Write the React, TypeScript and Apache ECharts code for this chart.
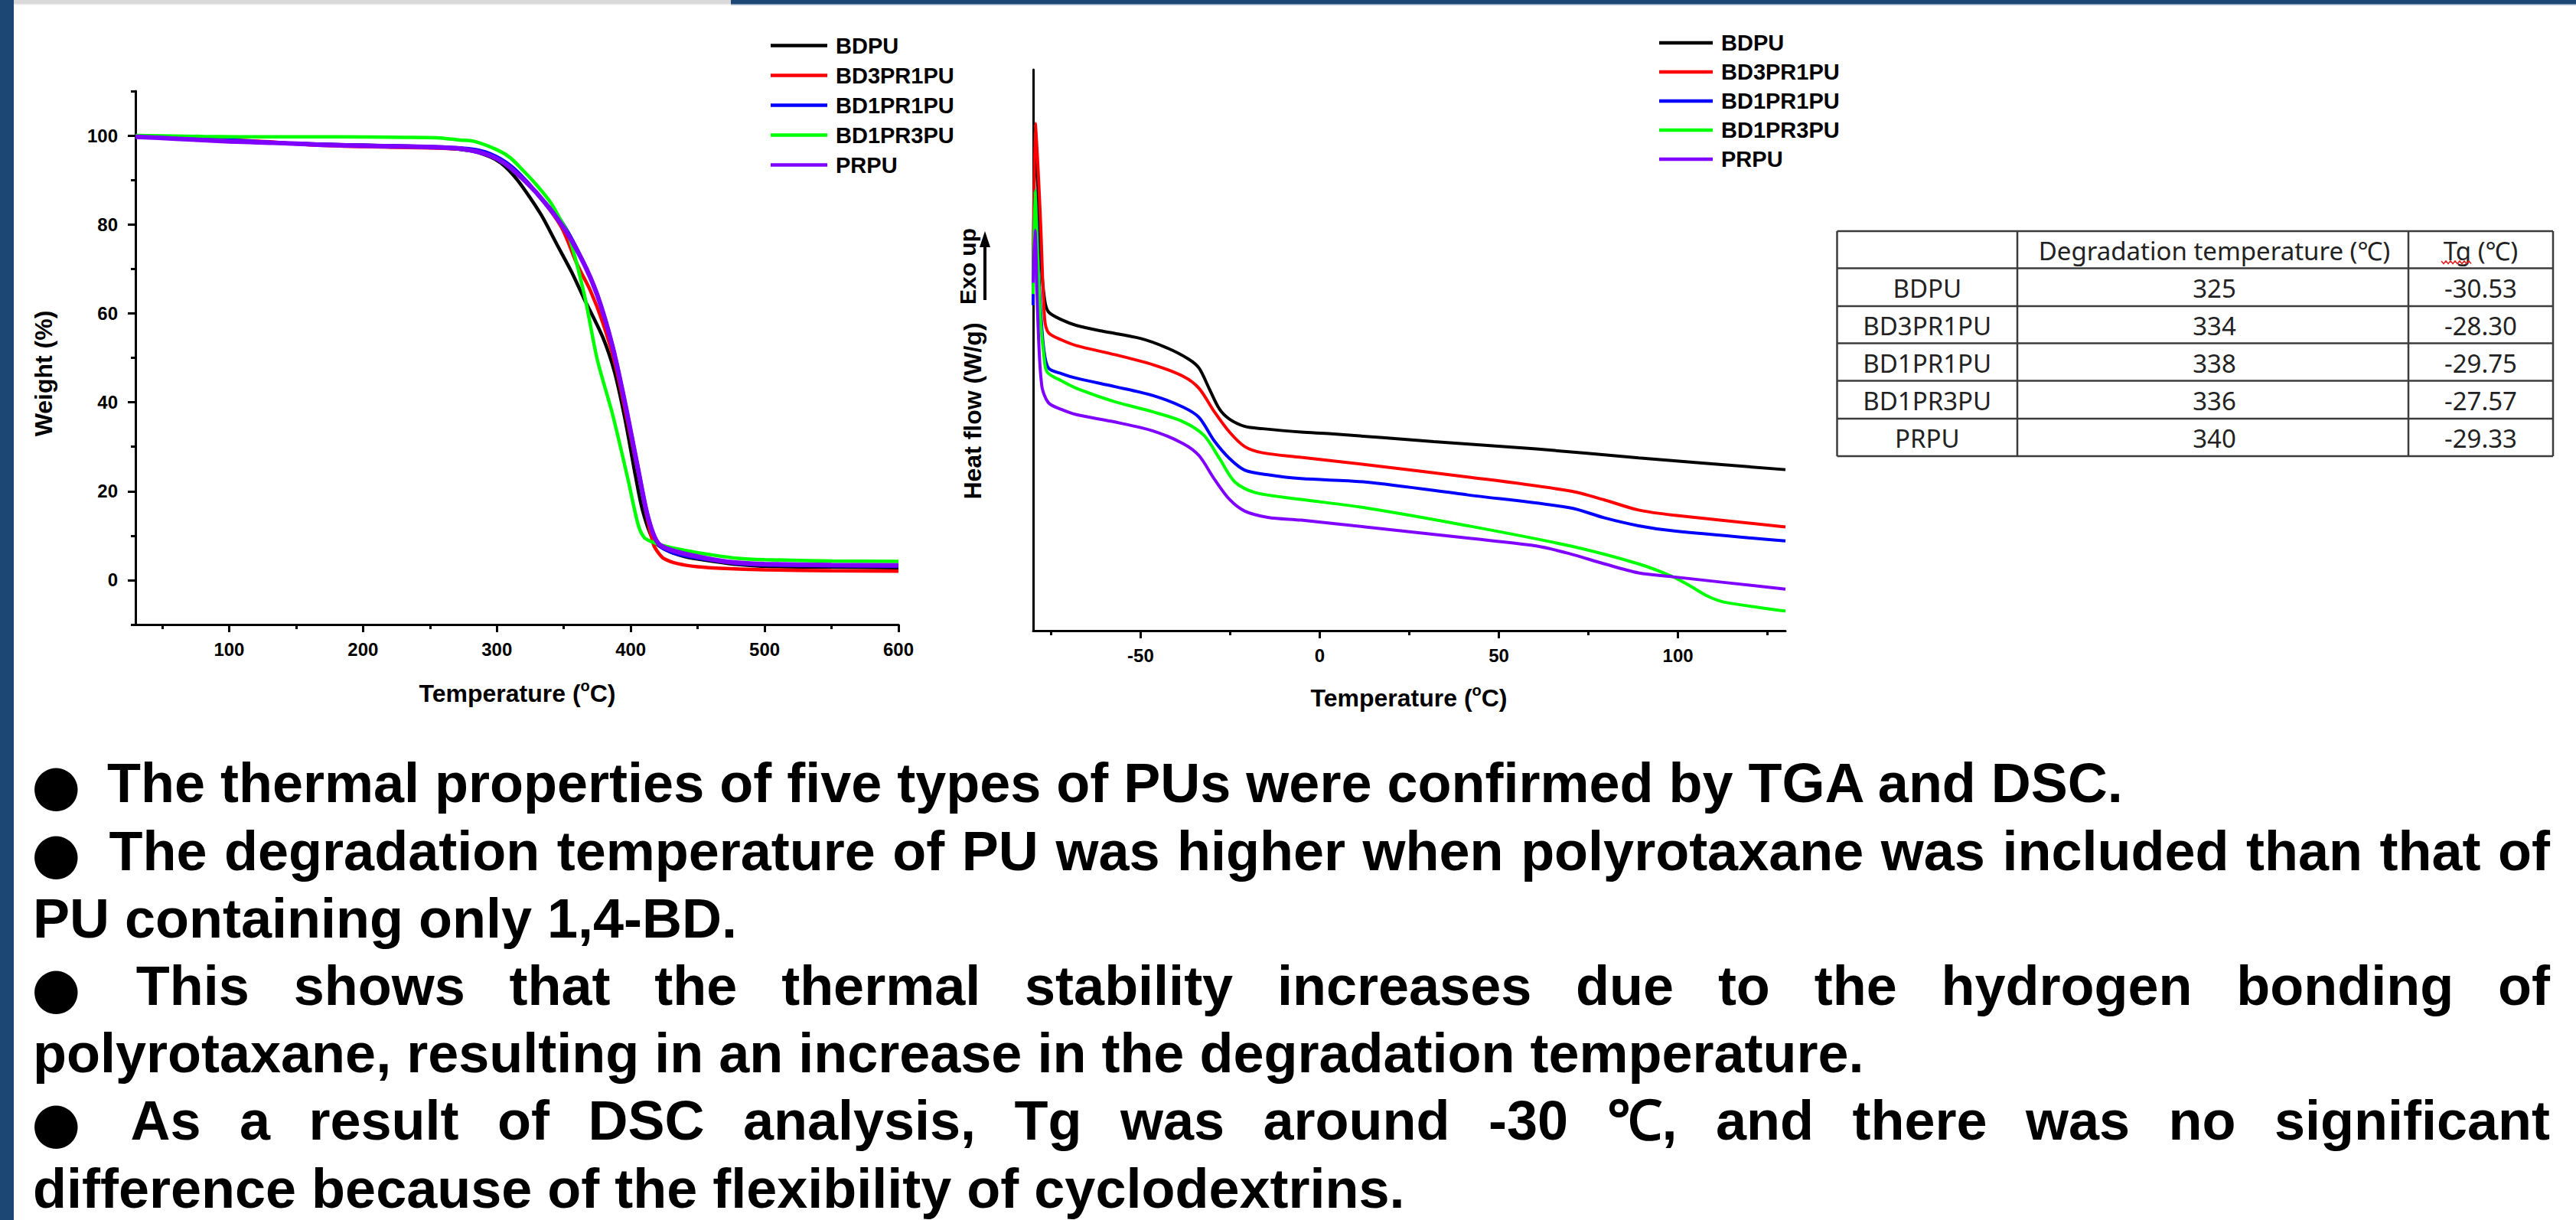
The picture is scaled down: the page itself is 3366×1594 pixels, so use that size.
import React, { useEffect, useRef } from "react";
import * as echarts from "echarts";

const FONT = "'Liberation Sans', Arial, Helvetica, sans-serif";
const TABLE_FONT = "'Noto Sans', 'Noto Sans CJK KR', sans-serif";

const seriesNames = ["BDPU", "BD3PR1PU", "BD1PR1PU", "BD1PR3PU", "PRPU"];
const seriesColors = ["#000000", "#ff0000", "#0000ff", "#00ff00", "#8000ff"];
const tgaLineWidths = [4.5, 4.5, 4.5, 4.5, 6];
const dscLineWidths = [4, 4, 4, 4, 4];

// TGA axes
const tgaXLabels = [100, 200, 300, 400, 500, 600];
const tgaXMinor = [50, 150, 250, 350, 450, 550];
const tgaYLabels = [0, 20, 40, 60, 80, 100];
const tgaYMinor = [-10, 10, 30, 50, 70, 90, 110];
// DSC axes
const dscXLabels = [-50, 0, 50, 100];
const dscXMinor = [-75, -25, 25, 75, 125];

// TGA: [temperature (°C), weight (%)]
const tgaBDPU = [
  [30, 99.9], [50, 99.6], [100, 98.7], [150, 98.2], [200, 97.8], [250, 97.4], [280, 96.6],
  [295, 95.2], [303, 93.8], [312, 91.2], [320, 88.1], [333, 82.2], [344.5, 75.7], [356, 69.2],
  [365, 63.4], [379, 54.7], [388, 46.7], [396, 35.8], [403.5, 23.5], [409, 15.5], [417, 8.9],
  [425, 7.0], [440, 5.3], [462, 4.2], [480, 3.5], [500, 3.1], [550, 2.9], [600, 2.8],
];
const tgaBD3PR1PU = [
  [30, 99.9], [60, 99.5], [100, 99.0], [130, 98.6], [160, 97.9], [200, 97.5], [250, 97.2],
  [280, 96.8], [295, 95.8], [310, 93.0], [329, 87.3], [348, 79.5], [360, 71.0], [370, 65.0],
  [379, 58.0], [388, 49.0], [396, 38.0], [405, 25.0], [412, 14.5], [417, 8.0], [421, 6.0],
  [425, 4.8], [435, 3.7], [450, 3.0], [470, 2.6], [500, 2.3], [550, 2.1], [600, 2.0],
];
const tgaBD1PR1PU = [
  [30, 99.9], [60, 99.5], [100, 99.0], [150, 98.2], [200, 97.8], [250, 97.5], [280, 97.0],
  [295, 95.9], [310, 93.3], [322, 89.8], [335, 85.2], [348, 80.8], [363.5, 72.3], [375, 64.3],
  [386.4, 52.8], [396, 39.6], [405.5, 25.2], [413, 14.2], [420.7, 8.0], [430, 6.3], [440, 5.5],
  [462, 4.4], [480, 3.7], [500, 3.4], [550, 3.2], [600, 3.1],
];
const tgaBD1PR3PU = [
  [30, 100.0], [80, 99.8], [130, 99.7], [180, 99.7], [230, 99.6], [255, 99.5], [272, 99.0],
  [283, 98.7], [300, 96.8], [310, 95.0], [320, 92.0], [329, 89.1], [340, 85.0], [348, 80.8],
  [354, 77.2], [365.4, 64.1], [375, 49.6], [386.4, 37.3], [397.9, 22.7], [405.5, 12.5],
  [410, 9.6], [415, 8.7], [425, 7.7], [440, 6.7], [462, 5.6], [480, 4.9],
  [500, 4.6], [550, 4.3], [600, 4.2],
];
const tgaPRPU = [
  [30, 99.7], [60, 99.3], [100, 98.7], [130, 98.4], [170, 97.9], [216, 97.6], [250, 97.4],
  [274, 97.0], [290, 96.0], [300, 94.8], [310, 92.8], [329, 87.3], [348, 80.1], [363.5, 72.1],
  [375, 64.1], [386.4, 52.5], [396, 39.4], [405.5, 24.9], [413, 14.0], [420.7, 8.2], [434, 6.4],
  [462, 4.6], [480, 3.9], [500, 3.6], [550, 3.4], [600, 3.3],
];

// DSC: [temperature (°C), heat flow (arbitrary offset units)]
const dscBDPU = [
  [-80, 60], [-79.4, 88], [-78.6, 78], [-77.8, 66], [-76.8, 59], [-75.7, 56.8], [-72, 55.4],
  [-67.9, 54.4], [-60.8, 53.4], [-50.1, 52.1], [-43, 50.5], [-36.6, 48.4], [-33.7, 46.8],
  [-30.9, 43.2], [-28, 39.5], [-25.2, 37.7], [-20.9, 36.4], [-15.9, 36.0], [-5.2, 35.4],
  [3.2, 35.1], [31.8, 33.7], [60.4, 32.4], [89, 30.8], [130, 28.7],
];
const dscBD3PR1PU = [
  [-80, 62], [-79.4, 90.4], [-78.6, 82], [-77.9, 72.4], [-76.8, 55.6], [-75.7, 53.1], [-72, 51.8],
  [-67.9, 50.8], [-57.2, 49.2], [-46.5, 47.4], [-38, 45.3], [-33.7, 43.2], [-29.4, 39.0],
  [-25.2, 35.4], [-20.9, 32.8], [-15.9, 31.7], [-5.2, 30.9], [12.7, 29.6], [41.3, 27.4],
  [69.9, 24.9], [79.5, 23.3], [89, 21.5], [98.6, 20.6], [130, 18.5],
];
const dscBD1PR1PU = [
  [-80, 58], [-79.5, 78.4], [-78.8, 70], [-78, 58], [-77, 50], [-75.7, 46.8], [-72, 45.8],
  [-67.9, 45.0], [-57.2, 43.5], [-46.5, 41.9], [-38, 39.8], [-33.7, 38.0], [-29.4, 33.8],
  [-25.2, 30.7], [-20.9, 28.6], [-14.5, 27.8], [-5.2, 27.1], [12.7, 26.5], [41.3, 24.2],
  [69.9, 21.9], [79.5, 20.1], [89, 18.7], [98.6, 17.8], [130, 16.0],
];
const dscBD1PR3PU = [
  [-80, 60], [-79.5, 78.4], [-78.8, 68], [-77.9, 55], [-77, 49], [-76.1, 46.1], [-72, 44.5],
  [-67.9, 43.2], [-57.2, 40.8], [-46.5, 39.0], [-38, 37.2], [-32.3, 34.8], [-28, 30.7],
  [-23.7, 26.5], [-18, 24.6], [-5.2, 23.4], [12.7, 21.9], [41.3, 18.7], [69.9, 15.1], [89, 11.9],
  [98.6, 9.6], [103.3, 8.0], [108.1, 6.2], [112.8, 5.1], [130, 3.5],
];
const dscPRPU = [
  [-80, 62], [-79.5, 71.4], [-78.7, 55.6], [-77.6, 43.7], [-75.7, 40.6], [-72, 39.4],
  [-67.9, 38.5], [-57.2, 37.2], [-46.5, 35.6], [-38, 33.3], [-33.7, 31.2], [-29.4, 27.0],
  [-25.2, 23.4], [-20.9, 21.3], [-14.5, 20.2], [-5.2, 19.7], [12.7, 18.5], [41.3, 16.5],
  [60.4, 15.1], [69.9, 13.7], [79.5, 11.9], [89, 10.3], [98.6, 9.6], [130, 7.4],
];

const tgaData = [tgaBDPU, tgaBD3PR1PU, tgaBD1PR1PU, tgaBD1PR3PU, tgaPRPU];
const dscData = [dscBDPU, dscBD3PR1PU, dscBD1PR1PU, dscBD1PR3PU, dscPRPU];

// Table
const tableHeader = ["", "Degradation temperature (℃)", "Tg (℃)"];
const degradationTemps = ["325", "334", "338", "336", "340"];
const tgValues = ["-30.53", "-28.30", "-29.75", "-27.57", "-29.33"];

// Paragraph
const paragraphLines = [
  { text: "The thermal properties of five types of PUs were confirmed by TGA and DSC.", bullet: true, justify: false },
  { text: "The degradation temperature of PU was higher when polyrotaxane was included than that of", bullet: true, justify: true },
  { text: "PU containing only 1,4-BD.", bullet: false, justify: false },
  { text: "This shows that the thermal stability increases due to the hydrogen bonding of", bullet: true, justify: true },
  { text: "polyrotaxane, resulting in an increase in the degradation temperature.", bullet: false, justify: false },
  { text: "As a result of DSC analysis, Tg was around -30 ℃, and there was no significant", bullet: true, justify: true },
  { text: "difference because of the flexibility of cyclodextrins.", bullet: false, justify: false },
];

const BLUE = "#1c4673";

function axisBase(gridIndex: number, min: number, max: number, position: string) {
  return {
    type: "value",
    gridIndex,
    min,
    max,
    position,
    splitLine: { show: false },
    axisLine: { show: true, onZero: false, lineStyle: { color: "#000", width: 3 } },
    axisTick: { show: false },
    axisLabel: { show: false },
  };
}

function majorAxis(gridIndex: number, min: number, max: number, position: string, values: number[], margin: number) {
  return {
    ...axisBase(gridIndex, min, max, position),
    axisTick: { show: true, customValues: values, length: 10, inside: false, lineStyle: { color: "#000", width: 3 } },
    axisLabel: {
      show: true,
      customValues: values,
      margin,
      color: "#000",
      fontSize: 24,
      fontWeight: "bold",
      fontFamily: FONT,
    },
  };
}

function minorAxis(gridIndex: number, min: number, max: number, position: string, values: number[]) {
  return {
    ...axisBase(gridIndex, min, max, position),
    axisLine: { show: false, onZero: false },
    axisTick: { show: true, customValues: values, length: 6, inside: false, lineStyle: { color: "#000", width: 3 } },
  };
}

function buildOption() {
  const measureCanvas = document.createElement("canvas");
  const ctx = measureCanvas.getContext("2d") as CanvasRenderingContext2D;
  const P_SIZE = 72;
  ctx.font = `bold ${P_SIZE}px ${FONT}`;
  const measure = (t: string) => ctx.measureText(t).width;

  const graphics: any[] = [];

  // frame bars
  graphics.push({ type: "rect", shape: { x: 0, y: 0, width: 18, height: 1594 }, style: { fill: BLUE }, silent: true });
  graphics.push({ type: "rect", shape: { x: 18, y: 0, width: 937, height: 5 }, style: { fill: "#d9d9d9" }, silent: true });
  graphics.push({ type: "rect", shape: { x: 18, y: 5, width: 937, height: 1.5 }, style: { fill: "#ececec" }, silent: true });
  graphics.push({ type: "rect", shape: { x: 955, y: 0, width: 2411, height: 5.5 }, style: { fill: BLUE }, silent: true });
  graphics.push({ type: "rect", shape: { x: 955, y: 5.5, width: 2411, height: 1 }, style: { fill: "#6d8bb0" }, silent: true });

  const titleRich = {
    a: { fontSize: 32, fontWeight: "bold", fontFamily: FONT, color: "#000", lineHeight: 40 },
    s: { fontSize: 20, fontWeight: "bold", fontFamily: FONT, color: "#000", verticalAlign: "top", lineHeight: 40, padding: [0, 0, 22, 0] },
  };
  // axis titles
  graphics.push({
    type: "text", x: 57, y: 488, rotation: Math.PI / 2,
    style: { text: "Weight (%)", fontSize: 32, fontWeight: "bold", fontFamily: FONT, fill: "#000", align: "center", verticalAlign: "middle" },
  });
  graphics.push({
    type: "text", x: 676, y: 906,
    style: { text: "{a|Temperature (}{s|o}{a|C)}", rich: titleRich, align: "center", verticalAlign: "middle" },
  });
  graphics.push({
    type: "text", x: 1841, y: 912,
    style: { text: "{a|Temperature (}{s|o}{a|C)}", rich: titleRich, align: "center", verticalAlign: "middle" },
  });
  graphics.push({
    type: "text", x: 1271, y: 537, rotation: Math.PI / 2,
    style: { text: "Heat flow (W/g)", fontSize: 32, fontWeight: "bold", fontFamily: FONT, fill: "#000", align: "center", verticalAlign: "middle" },
  });
  graphics.push({
    type: "text", x: 1264, y: 348, rotation: Math.PI / 2,
    style: { text: "Exo up", fontSize: 30, fontWeight: "bold", fontFamily: FONT, fill: "#000", align: "center", verticalAlign: "middle" },
  });
  graphics.push({ type: "line", shape: { x1: 1287, y1: 392, x2: 1287, y2: 318 }, style: { stroke: "#000", lineWidth: 4 }, silent: true });
  graphics.push({ type: "polygon", shape: { points: [[1287, 302], [1280, 323], [1294, 323]] }, style: { fill: "#000" }, silent: true });

  // table
  const rowYs = [302, 350.5, 400, 448.5, 497.5, 547, 596];
  const colXs = [2400.5, 2636, 3147, 3336];
  rowYs.forEach((y) => {
    graphics.push({ type: "line", shape: { x1: colXs[0], y1: y, x2: colXs[3], y2: y }, style: { stroke: "#3c3c3c", lineWidth: 2.5 }, silent: true });
  });
  colXs.forEach((x) => {
    graphics.push({ type: "line", shape: { x1: x, y1: rowYs[0], x2: x, y2: rowYs[6] }, style: { stroke: "#3c3c3c", lineWidth: 2.5 }, silent: true });
  });
  const colCenters = [(colXs[0] + colXs[1]) / 2, (colXs[1] + colXs[2]) / 2 + 2, (colXs[2] + colXs[3]) / 2];
  const cell = (text: string, cx: number, cy: number) => ({
    type: "text", x: cx, y: cy,
    style: { text, fontSize: 33, fontFamily: TABLE_FONT, fill: "#222", align: "center", verticalAlign: "middle" },
  });
  tableHeader.forEach((h, j) => {
    if (h) graphics.push(cell(h, colCenters[j], (rowYs[0] + rowYs[1]) / 2 + 1));
  });
  seriesNames.forEach((name, i) => {
    const cy = (rowYs[i + 1] + rowYs[i + 2]) / 2 + 1;
    graphics.push(cell(name, colCenters[0], cy));
    graphics.push(cell(degradationTemps[i], colCenters[1], cy));
    graphics.push(cell(tgValues[i], colCenters[2], cy));
  });
  // spell-check squiggle under "Tg"
  const squiggle: number[][] = [];
  for (let k = 0; k <= 13; k++) squiggle.push([3190 + k * 3, k % 2 === 0 ? 341 : 344.5]);
  graphics.push({ type: "polyline", shape: { points: squiggle }, style: { stroke: "#e02020", lineWidth: 1.5, fill: null }, silent: true });

  // paragraph
  const P_LEFT = 43;
  const P_RIGHT = 3332;
  const P_TEXT_START = 140;
  const P_SPACE = measure(" ");
  const P_BASE0 = 1048.5;
  const P_STEP = 88.2;
  paragraphLines.forEach((ln, i) => {
    const cy = P_BASE0 + i * P_STEP - 0.35 * P_SIZE;
    const tStyle = { fontSize: P_SIZE, fontWeight: "bold", fontFamily: FONT, fill: "#000", align: "left", verticalAlign: "middle" };
    if (ln.bullet) {
      graphics.push({
        type: "text", x: P_LEFT - 2, y: cy + 2,
        style: { text: "●", fontSize: 74, fontFamily: "'DejaVu Sans', sans-serif", fill: "#000", align: "left", verticalAlign: "middle" },
      });
    }
    const startX = ln.bullet ? P_TEXT_START : P_LEFT;
    if (!ln.justify) {
      graphics.push({ type: "text", x: startX, y: cy, style: { ...tStyle, text: ln.text } });
    } else {
      const words = ln.text.split(" ");
      const ws = words.map(measure);
      const natural = (startX - P_LEFT) + ws.reduce((a, b) => a + b, 0) + P_SPACE * (words.length - 1);
      const extra = (P_RIGHT - P_LEFT) - natural;
      const gaps = ln.bullet ? words.length : words.length - 1;
      const per = extra / gaps;
      let x = startX + (ln.bullet ? per : 0);
      words.forEach((w, k) => {
        graphics.push({ type: "text", x, y: cy, style: { ...tStyle, text: w } });
        x += ws[k] + P_SPACE + per;
      });
    }
  });

  const series: any[] = [];
  seriesNames.forEach((name, i) => {
    series.push({
      type: "line", name, data: tgaData[i], xAxisIndex: 0, yAxisIndex: 0,
      symbol: "none", showSymbol: false, smooth: 0.3,
      lineStyle: { color: seriesColors[i], width: tgaLineWidths[i] }, itemStyle: { color: seriesColors[i] },
      silent: true, animation: false,
    });
  });
  seriesNames.forEach((name, i) => {
    series.push({
      type: "line", name, data: dscData[i], xAxisIndex: 2, yAxisIndex: 2,
      symbol: "none", showSymbol: false, smooth: 0.3,
      lineStyle: { color: seriesColors[i], width: dscLineWidths[i] }, itemStyle: { color: seriesColors[i] },
      silent: true, animation: false,
    });
  });

  const legendBase = {
    data: seriesNames.map((n) => ({ name: n, icon: "rect" })),
    orient: "vertical",
    itemHeight: 4.5,
    itemGap: 0,
    padding: 0,
    selectedMode: false,
  };

  return {
    animation: false,
    backgroundColor: "#ffffff",
    grid: [
      { left: 177, top: 119, width: 997, height: 697 },
      { left: 1350, top: 91, width: 983, height: 733 },
    ],
    xAxis: [
      majorAxis(0, 30, 600, "bottom", tgaXLabels, 20),
      minorAxis(0, 30, 600, "bottom", tgaXMinor),
      majorAxis(1, -80, 130, "bottom", dscXLabels, 20),
      minorAxis(1, -80, 130, "bottom", dscXMinor),
    ],
    yAxis: [
      majorAxis(0, -10, 110, "left", tgaYLabels, 23),
      minorAxis(0, -10, 110, "left", tgaYMinor),
      { ...axisBase(1, 0, 100, "left") },
    ],
    legend: [
      {
        ...legendBase, left: 1007, top: 40, itemWidth: 74,
        textStyle: { fontSize: 29, fontWeight: "bold", fontFamily: FONT, color: "#000", lineHeight: 39, padding: [0, 0, 0, 6] },
      },
      {
        ...legendBase, left: 2168, top: 37, itemWidth: 70,
        textStyle: { fontSize: 29, fontWeight: "bold", fontFamily: FONT, color: "#000", lineHeight: 38, padding: [0, 0, 0, 6] },
      },
    ],
    series,
    graphic: graphics,
  };
}

export default function App() {
  const ref = useRef<HTMLDivElement>(null);
  useEffect(() => {
    const el = ref.current;
    if (!el) return;
    const chart = echarts.init(el, undefined, { renderer: "svg" });
    chart.setOption(buildOption() as any);
    return () => {
      chart.dispose();
    };
  }, []);
  return (
    <div
      ref={ref}
      style={{ position: "fixed", left: 0, top: 0, width: 3366, height: 1594, background: "#fff" }}
    />
  );
}
